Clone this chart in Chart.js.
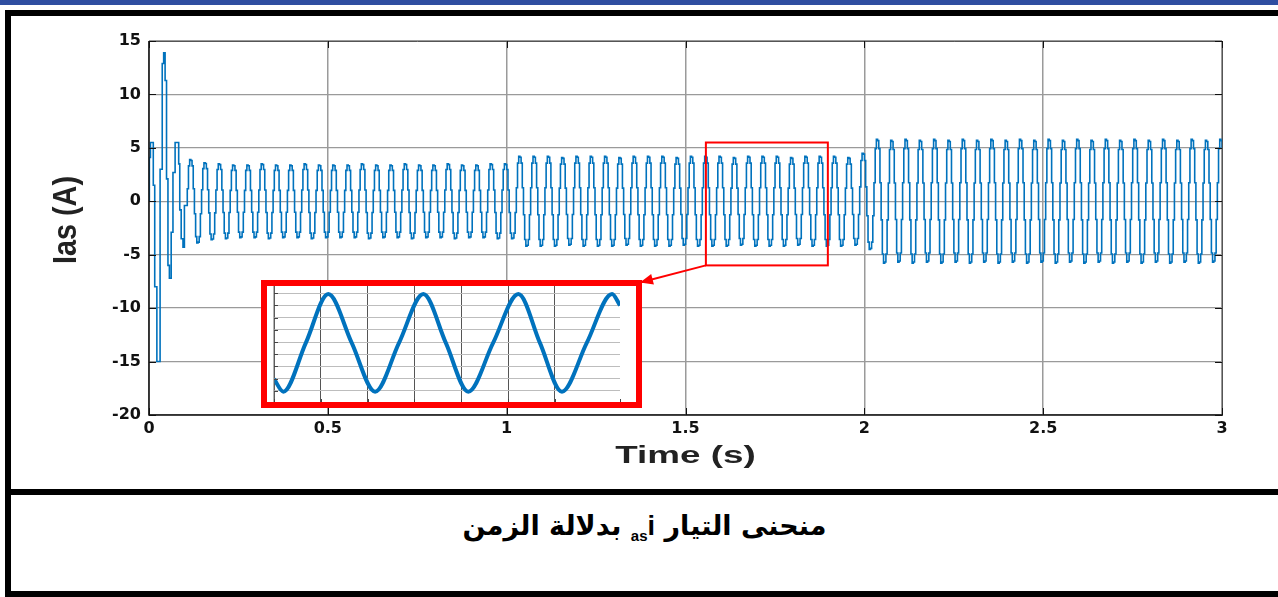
<!DOCTYPE html>
<html lang="ar">
<head>
<meta charset="utf-8">
<title>Ias</title>
<script src="https://cdn.jsdelivr.net/npm/chart.js@4.4.0/dist/chart.umd.min.js"></script>
<style>
  html, body { margin: 0; padding: 0; background: #fff; }
  body { width: 1278px; height: 597px; position: relative; overflow: hidden; }
  .bar { position: absolute; left: 0; top: 0; width: 1278px; height: 5px; background: #2f4ea1; }
  .line { position: absolute; background: #000; }
  #main { position: absolute; left: 0; top: 0; }
  #inset { position: absolute; left: 261px; top: 280px; background: #fff; }
  .inset-frame { position: absolute; left: 261px; top: 280px; width: 381px; height: 128px;
                 box-sizing: border-box; border: 6px solid #ff0000; }
  .caption { position: absolute; left: 11px; right: 0; top: 507px; text-align: center;
             font: bold 27px "DejaVu Sans"; line-height: 38px; color: #000; }
  .caption .ib { display: inline-block; font-family: "Liberation Sans"; }
  .caption sub { font-size: 15px; }
</style>
</head>
<body>
<div class="bar"></div>
<canvas id="main" width="1278" height="489"></canvas>
<canvas id="inset" width="381" height="128"></canvas>
<div class="inset-frame"></div>

<div class="line" style="left:5px; top:10px; width:1273px; height:6px;"></div>
<div class="line" style="left:5px; top:10px; width:6px; height:587px;"></div>
<div class="line" style="left:5px; top:489px; width:1273px; height:6px;"></div>
<div class="line" style="left:5px; top:591px; width:1273px; height:6px;"></div>

<div class="caption" dir="rtl">منحنى التيار <span class="ib">i</span><span class="ib"><sub>as</sub></span> بدلالة الزمن</div>

<script>
// valeurs
const xTicks = [0, 0.5, 1, 1.5, 2, 2.5, 3];
const yTicks = [-20, -15, -10, -5, 0, 5, 10, 15];

// démarrage (s, A)
const startT = [0, 0.001, 0.004, 0.012, 0.016, 0.022, 0.031, 0.037, 0.041, 0.045, 0.049,
                0.053, 0.057, 0.062, 0.067, 0.073, 0.083, 0.086, 0.090, 0.095, 0.099];
const startI = [0, 4.1, 5.5, 1.5, -8, -15, 3.0, 12.9, 13.9, 11.3, 2.1,
                -6.0, -7.2, -2.9, 2.7, 5.5, 3.5, -0.8, -3.5, -4.3, -0.4];

// régime établi : forme d'une période (12 paliers) et amplitude de chaque période
const firstCycle = 0.107;
const period = 0.04;
const stepShape = [0.3, 0.85, 1.0, 0.98, 0.85, 0.3, -0.3, -0.85, -1.0, -0.98, -0.85, -0.3];
const ampA = [3.9, 3.6, 3.5, 3.4, 3.4, 3.5, 3.4, 3.4, 3.5, 3.4, 3.4, 3.4,
              3.5, 3.4, 3.4, 3.5, 3.4, 3.4, 3.5, 3.4, 3.4, 3.5, 3.5];
const ampB = [4.2, 4.2, 4.2, 4.1, 4.2, 4.2, 4.2, 4.1, 4.2, 4.2, 4.2, 4.1, 4.2,
              4.2, 4.2, 4.1, 4.2, 4.2, 4.2, 4.1, 4.2, 4.2, 4.2, 4.1, 4.5];
const ampC = [5.8, 5.7, 5.8, 5.7, 5.8, 5.7, 5.8, 5.7, 5.8, 5.7, 5.8, 5.7, 5.8,
              5.7, 5.8, 5.7, 5.8, 5.7, 5.8, 5.7, 5.8, 5.7, 5.8, 5.7, 5.8];

// cadre rouge de zoom + flèche (coordonnées du graphe)
const zoomX = [1.557, 1.898];
const zoomY = [-6.0, 5.5];
const arrowTip = [1.373, -7.6];

// encart (zoom)
const insetX = [0, 0.2, 0.68, 1.16, 1.66, 2.16, 2.67, 3.19, 3.67, 4.15, 4.68, 5.22, 5.68, 6.15, 6.68, 7.22, 7.39];
const insetY = [1.97, 0.93, 4.93, 8.93, 4.93, 0.93, 4.93, 8.93, 4.93, 0.93, 4.93, 8.93, 4.93, 0.93, 4.93, 8.93, 8.0];

const BLUE = "#0072bd";

const points = startT.map((t, i) => ({ x: t, y: startI[i] }));
ampA.concat(ampB, ampC).forEach((a, k) => {
  stepShape.forEach((s, j) => {
    points.push({ x: firstCycle + k * period + j * period / stepShape.length, y: +(a * s).toFixed(2) });
  });
});

// cadre + petites graduations vers l'intérieur (style matlab)
const boxPlugin = {
  id: "box",
  afterDatasetsDraw(chart, args, opts) {
    const { ctx, chartArea: a, scales: { x, y } } = chart;
    ctx.save();
    ctx.lineWidth = 1;
    ctx.strokeStyle = opts.side;
    ctx.beginPath();
    ctx.moveTo(a.left, a.top + 0.5); ctx.lineTo(a.right + 0.5, a.top + 0.5); ctx.lineTo(a.right + 0.5, a.bottom);
    ctx.stroke();
    ctx.lineWidth = opts.axisWidth;
    ctx.strokeStyle = opts.axis;
    ctx.beginPath();
    ctx.moveTo(a.left, a.top); ctx.lineTo(a.left, a.bottom); ctx.lineTo(a.right + 1, a.bottom);
    ctx.stroke();
    ctx.lineWidth = 1;
    ctx.strokeStyle = opts.tickColor;
    ctx.beginPath();
    x.ticks.forEach(t => {
      const px = Math.round(x.getPixelForValue(t.value)) + 0.5;
      ctx.moveTo(px, a.bottom); ctx.lineTo(px, a.bottom - opts.tick);
      if (opts.both) { ctx.moveTo(px, a.top); ctx.lineTo(px, a.top + opts.tick); }
    });
    y.ticks.forEach(t => {
      const py = Math.round(y.getPixelForValue(t.value)) + 0.5;
      ctx.moveTo(a.left, py); ctx.lineTo(a.left + opts.tick, py);
      if (opts.both) { ctx.moveTo(a.right, py); ctx.lineTo(a.right - opts.tick, py); }
    });
    ctx.stroke();
    ctx.restore();
  }
};

// zoom, flèche et titres d'axes (police étirée comme sur la figure)
const notesPlugin = {
  id: "notes",
  afterDatasetsDraw(chart) {
    const { ctx, scales: { x, y } } = chart;
    ctx.save();
    const x0 = x.getPixelForValue(zoomX[0]), x1 = x.getPixelForValue(zoomX[1]);
    const y0 = y.getPixelForValue(zoomY[1]), y1 = y.getPixelForValue(zoomY[0]);
    ctx.strokeStyle = "#ff0000";
    ctx.lineWidth = 2;
    ctx.strokeRect(x0, y0, x1 - x0, y1 - y0);

    const tx = x.getPixelForValue(arrowTip[0]), ty = y.getPixelForValue(arrowTip[1]);
    ctx.beginPath();
    ctx.moveTo(x0, y1);
    ctx.lineTo(tx, ty);
    ctx.stroke();
    const ang = Math.atan2(ty - y1, tx - x0);
    ctx.fillStyle = "#ff0000";
    ctx.beginPath();
    ctx.moveTo(tx, ty);
    ctx.lineTo(tx - 14 * Math.cos(ang - 0.4), ty - 14 * Math.sin(ang - 0.4));
    ctx.lineTo(tx - 14 * Math.cos(ang + 0.4), ty - 14 * Math.sin(ang + 0.4));
    ctx.closePath();
    ctx.fill();
    ctx.restore();
  },
  afterDraw(chart) {
    const { ctx, chartArea: a } = chart;
    ctx.save();
    ctx.fillStyle = "#222";
    ctx.textAlign = "center";
    ctx.textBaseline = "alphabetic";
    ctx.font = "bold 23px 'Liberation Sans'";
    ctx.translate((a.left + a.right) / 2, 463);
    ctx.scale(1.6, 1);
    ctx.fillText("Time (s)", 0, 0);
    ctx.restore();

    ctx.save();
    ctx.fillStyle = "#222";
    ctx.textAlign = "center";
    ctx.textBaseline = "middle";
    ctx.font = "bold 24px 'Liberation Sans'";
    ctx.translate(67, 220);
    ctx.rotate(-Math.PI / 2);
    ctx.scale(1.2, 1.35);
    ctx.fillText("Ias (A)", 0, 0);
    ctx.restore();
  }
};

Chart.defaults.font.family = "'DejaVu Sans', sans-serif";
Chart.defaults.color = "#111";

new Chart(document.getElementById("main"), {
  type: "line",
  data: {
    datasets: [{
      label: "Ias",
      data: points,
      borderColor: BLUE,
      borderWidth: 1.6,
      pointRadius: 0,
      stepped: true,
      fill: false
    }]
  },
  options: {
    responsive: false,
    animation: false,
    devicePixelRatio: 1,
    layout: { padding: { top: 41, right: 56, left: 0, bottom: 0 } },
    plugins: {
      legend: { display: false },
      tooltip: { enabled: false },
      box: { side: "#555", axis: "#111", axisWidth: 1.5, tickColor: "#111", tick: 7, both: true }
    },
    scales: {
      x: {
        type: "linear",
        min: 0,
        max: 3,
        afterBuildTicks: s => { s.ticks = xTicks.map(v => ({ value: v })); },
        afterFit: s => { s.height = 74; },
        grid: { color: "#9a9a9a", lineWidth: 1.5, drawTicks: false },
        border: { display: false },
        ticks: { font: { size: 16, weight: "bold" }, padding: 4, maxRotation: 0, callback: v => String(v) }
      },
      y: {
        min: -20,
        max: 15,
        afterBuildTicks: s => { s.ticks = yTicks.map(v => ({ value: v })); },
        afterFit: s => { s.width = 149; },
        grid: { color: "#9a9a9a", lineWidth: 1.3, drawTicks: false },
        border: { display: false },
        ticks: { font: { size: 16, weight: "bold" }, padding: 8, callback: v => String(v) }
      }
    }
  },
  plugins: [boxPlugin, notesPlugin]
});

new Chart(document.getElementById("inset"), {
  type: "line",
  data: {
    datasets: [{
      data: insetX.map((v, i) => ({ x: v, y: insetY[i] })),
      borderColor: BLUE,
      borderWidth: 4,
      pointRadius: 0,
      cubicInterpolationMode: "monotone",
      fill: false
    }]
  },
  options: {
    responsive: false,
    animation: false,
    devicePixelRatio: 1,
    layout: { padding: { top: 1, right: 22, left: 0, bottom: 0 } },
    plugins: {
      legend: { display: false },
      tooltip: { enabled: false },
      box: { side: "#fff", axis: "#666", axisWidth: 1, tickColor: "#444", tick: 4, both: false }
    },
    scales: {
      x: {
        type: "linear",
        min: 0,
        max: 7.39,
        ticks: { display: false, stepSize: 1 },
        afterFit: s => { s.height = 5; },
        grid: { color: "#555", lineWidth: 1, drawTicks: false },
        border: { display: false }
      },
      y: {
        min: 0,
        max: 10,
        ticks: { display: false, stepSize: 1 },
        afterFit: s => { s.width = 13; },
        grid: { color: "#bdbdbd", lineWidth: 1, drawTicks: false },
        border: { display: false }
      }
    }
  },
  plugins: [boxPlugin]
});
</script>
</body>
</html>
